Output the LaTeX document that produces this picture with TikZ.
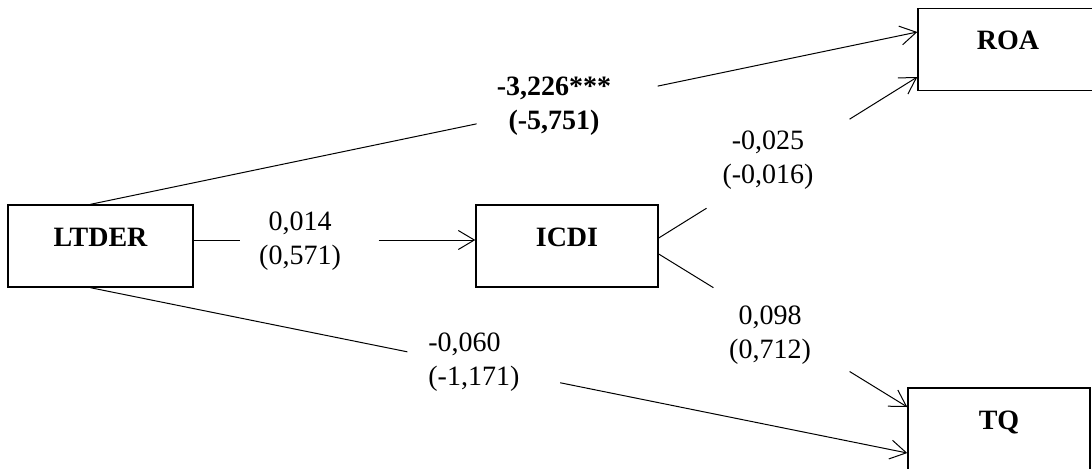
\documentclass[tikz,border=0pt]{standalone}
\usepackage{fontspec}
\setmainfont{Liberation Serif}
\usetikzlibrary{arrows.meta}
\begin{document}
\begin{tikzpicture}[x=0.5pt,y=-0.5pt,
  every node/.style={font=\fontsize{14}{16.75}\selectfont},
  var/.style={draw,line width=0.7pt,inner sep=0pt,minimum height=41pt,
    text height=9.5pt,text depth=9.5pt,font=\fontsize{14}{16.75}\selectfont\bfseries},
  coef/.style={inner sep=0pt,align=center},
  conn/.style={line width=0.5pt},
  arr/.style={conn,-{Straight Barb[length=8pt,width=9.5pt]}}]
\useasboundingbox (0,0) rectangle (1092,468);

% variables
\node[var,minimum width=92.5pt] (ltder) at (100.5,246) {LTDER};
\node[var,minimum width=91pt]   (icdi)  at (567,246)   {ICDI};
\node[var,minimum width=90pt]   (roa)   at (1008,49.5) {ROA};
\node[var,minimum width=91pt]   (tq)    at (999,429)   {TQ};

% path end points on the boxes
\coordinate (lt-n) at ([xshift=-5pt]ltder.north);
\coordinate (lt-s) at ([xshift=-5pt]ltder.south);
\coordinate (lt-e) at ([yshift=3pt]ltder.east);
\coordinate (ic-w) at ([yshift=3pt]icdi.west);
\coordinate (ic-e1) at ([yshift=4pt]icdi.east);
\coordinate (ic-e2) at ([yshift=-4pt]icdi.east);
\coordinate (ro-w1) at ([yshift=8.75pt]roa.west);
\coordinate (ro-w2) at ([yshift=-13.75pt]roa.west);
\coordinate (tq-w1) at ([yshift=11pt]tq.west);
\coordinate (tq-w2) at ([yshift=-12pt]tq.west);

% LTDER -> ROA
\path (lt-n) -- (ro-w1) coordinate[pos=0.467] (a1) coordinate[pos=0.686] (a2);
\draw[conn] (lt-n) -- (a1);
\draw[arr] (a2) -- (ro-w1);
\node[coef,font=\fontsize{14}{16.75}\selectfont\bfseries] (c1) at (554,106) {-3,226***\\(-5,751)};

% LTDER -> ICDI
\path (lt-e) -- (ic-w) coordinate[pos=0.163] (b1) coordinate[pos=0.657] (b2);
\draw[conn] (lt-e) -- (b1);
\draw[arr] (b2) -- (ic-w);
\node[coef] (c2) at (300,241) {0,014\\(0,571)};

% ICDI -> ROA
\path (ic-e1) -- (ro-w2) coordinate[pos=0.185] (d1) coordinate[pos=0.738] (d2);
\draw[conn] (ic-e1) -- (d1);
\draw[arr] (d2) -- (ro-w2);
\node[coef] (c3) at (768,160) {-0,025\\(-0,016)};

% ICDI -> TQ
\path (ic-e2) -- (tq-w1) coordinate[pos=0.22] (e1) coordinate[pos=0.768] (e2);
\draw[conn] (ic-e2) -- (e1);
\draw[arr] (e2) -- (tq-w1);
\node[coef] (c4) at (770,335) {0,098\\(0,712)};

% LTDER -> TQ
\path (lt-s) -- (tq-w2) coordinate[pos=0.388] (f1) coordinate[pos=0.575] (f2);
\draw[conn] (lt-s) -- (f1);
\draw[arr] (f2) -- (tq-w2);
\node[coef,align=left,anchor=west] (c5) at (428,362) {-0,060\\(-1,171)};
\end{tikzpicture}
\end{document}
